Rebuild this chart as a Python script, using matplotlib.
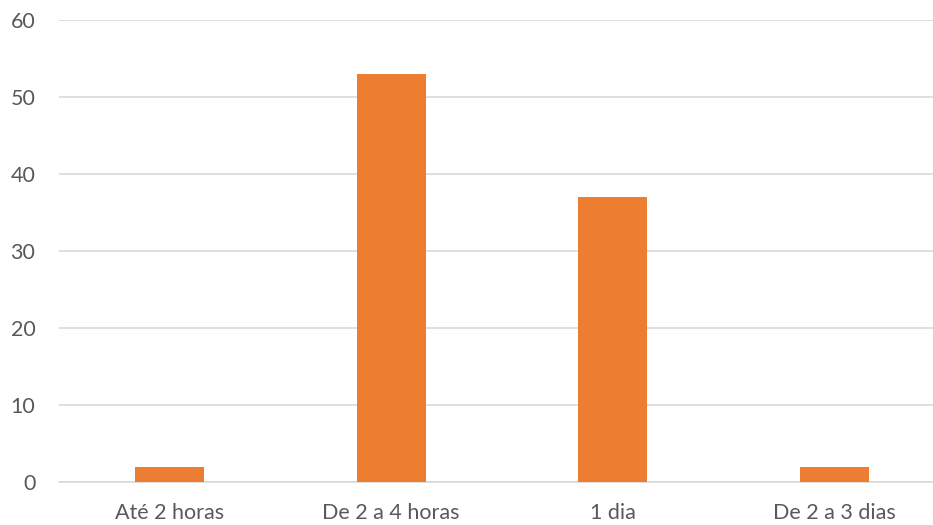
import matplotlib
matplotlib.use("Agg")
import matplotlib.pyplot as plt

categories = ["Até 2 horas", "De 2 a 4 horas", "1 dia", "De 2 a 3 dias"]
values = [2, 53, 37, 2]
y_ticks = [0, 10, 20, 30, 40, 50, 60]

plt.rcParams["font.family"] = ["Lato", "DejaVu Sans"]

fig = plt.figure(figsize=(9.33, 5.25), dpi=100)
ax = fig.add_axes([59 / 933, 43 / 525, (945 - 59) / 933, (504.7 - 43) / 525])

x = range(len(categories))
ax.bar(x, values, width=0.31, color="#ED7D31", zorder=3)

ax.set_xlim(-0.5, len(categories) - 0.5)
ax.set_ylim(0, 60)
ax.set_yticks(y_ticks)
ax.set_xticks(list(x))
ax.set_xticklabels(categories)

ax.grid(axis="y", color="#D9D9D9", linewidth=1.2, zorder=0)
ax.grid(axis="x", visible=False)
for side in ["top", "right", "left"]:
    ax.spines[side].set_visible(False)
ax.spines["bottom"].set_color("#D9D9D9")
ax.spines["bottom"].set_linewidth(1.2)

ax.tick_params(axis="both", length=0, labelsize=15.5, colors="#595959")
ax.tick_params(axis="y", pad=17)
ax.tick_params(axis="x", pad=15)

fig.savefig("out.png", dpi=100, facecolor="white")
